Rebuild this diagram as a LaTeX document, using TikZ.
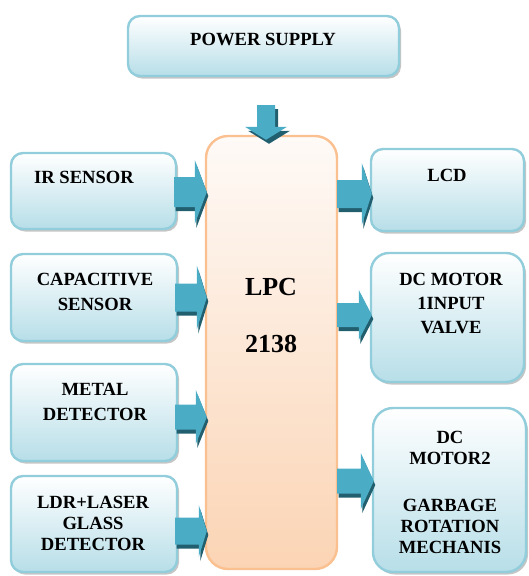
\documentclass[tikz,border=0pt]{standalone}
\usepackage{fontspec}
\setmainfont{Liberation Serif}
\usetikzlibrary{calc,shadows}
\definecolor{bbord}{HTML}{92CDDC}
\definecolor{bbot}{HTML}{B7DEE8}
\definecolor{obord}{HTML}{FAC090}
\definecolor{otop}{HTML}{FEFAF7}
\definecolor{obot}{HTML}{FBD4B4}
\definecolor{alight}{HTML}{4BACC6}
\definecolor{adark}{HTML}{215E6E}
% #1 start, #2 tip, #3 shaft half, #4 head half, #5 head length, #6 offset
\newcommand\hpoly[6]{($(#1)+(#6)+(0,-#3)$) -- ($(#2)+(#6)+(-#5,-#3)$) -- ($(#2)+(#6)+(-#5,-#4)$) -- ($(#2)+(#6)$) -- ($(#2)+(#6)+(-#5,#4)$) -- ($(#2)+(#6)+(-#5,#3)$) -- ($(#1)+(#6)+(0,#3)$) -- cycle}
\newcommand\vpoly[6]{($(#1)+(#6)+(-#3,0)$) -- ($(#2)+(#6)+(-#3,-#5)$) -- ($(#2)+(#6)+(-#4,-#5)$) -- ($(#2)+(#6)$) -- ($(#2)+(#6)+(#4,-#5)$) -- ($(#2)+(#6)+(#3,-#5)$) -- ($(#1)+(#6)+(#3,0)$) -- cycle}
\newcommand\harrowblk[5]{\fill[adark] \hpoly{#1}{#2}{#3}{#4}{#5}{1.5,4};
  \fill[alight] \hpoly{#1}{#2}{#3}{#4}{#5}{0,0};}
\begin{document}
\begin{tikzpicture}[x=1pt,y=-1pt,
  bluebox/.style={draw=bbord, line width=2.4pt, rounded corners=12pt, top color=white, bottom color=bbot, inner sep=0pt,
    drop shadow={shadow xshift=2pt, shadow yshift=-2.5pt, fill=black!45}},
  orangebox/.style={draw=obord, line width=2.4pt, rounded corners=22pt, top color=otop, bottom color=obot, inner sep=0pt},
  lbl/.style={font=\bfseries\fontsize{18.6}{25}\selectfont, align=center, inner sep=0pt, anchor=base},
  lbltight/.style={lbl, font=\bfseries\fontsize{18.6}{21}\selectfont},
  lblbig/.style={lbl, font=\bfseries\fontsize{26}{57}\selectfont}]
\useasboundingbox (0,0) rectangle (528,576);
% boxes
\node[bluebox, minimum width=271pt, minimum height=60pt] (power) at (263.5,46) {};
\node[bluebox, minimum width=165pt, minimum height=76pt] (ir) at (93.5,191) {};
\node[bluebox, minimum width=166pt, minimum height=87pt] (cap) at (94,297.5) {};
\node[bluebox, minimum width=166pt, minimum height=97pt] (metal) at (94,412.5) {};
\node[bluebox, minimum width=166pt, minimum height=96pt] (ldr) at (94,524) {};
\node[orangebox, minimum width=131pt, minimum height=433pt] (lpc) at (271.5,352.5) {};
\node[bluebox, minimum width=153pt, minimum height=82pt] (lcd) at (447.5,190) {};
\node[bluebox, rounded corners=18pt, minimum width=153pt, minimum height=129pt] (dcone) at (447.5,317.5) {};
\node[bluebox, rounded corners=20pt, minimum width=153pt, minimum height=164pt] (dctwo) at (449.5,490) {};
% labels (base = baseline of last line)
\node[lbl] (tpower) at (263,45) {POWER SUPPLY};
\node[lbl] (tir) at (84,183) {IR SENSOR};
\node[lbl] (tcap) at (95,310) {CAPACITIVE\\SENSOR};
\node[lbl] (tmetal) at (95,420) {METAL\\DETECTOR};
\node[lbltight] (tldr) at (93,550) {LDR+LASER\\GLASS\\DETECTOR};
\node[lblbig] (tlpc) at (271,352) {LPC\\2138};
\node[lbl] (tlcd) at (447,181) {LCD};
\node[lbl, font=\bfseries\fontsize{18.6}{24}\selectfont] (tdcone) at (451,333) {DC MOTOR\\1INPUT\\VALVE};
\node[lbltight] (tdctwo) at (450,553) {DC\\MOTOR2\\[5pt]\\GARBAGE\\ROTATION\\MECHANIS};
% arrows
\coordinate (pin) at (266,105);
\coordinate (ptip) at ($(lpc.north)+(-5.5,5)$);
\fill[adark] \vpoly{pin}{ptip}{9}{21}{13}{3,4};
\fill[alight] \vpoly{pin}{ptip}{9}{21}{13}{0,0};
\harrowblk{$(ir.east)+(-3,1)$}{$(lpc.west |- ir.east)+(2,1)$}{15}{32}{12}
\harrowblk{$(cap.east)+(-3,0)$}{$(lpc.west |- cap.east)+(2,0)$}{14}{32}{10}
\harrowblk{$(metal.east)+(-3,4.5)$}{$(lpc.west |- metal.east)+(2,4.5)$}{12.5}{27}{11}
\harrowblk{$(ldr.east)+(-3,7)$}{$(lpc.west |- ldr.east)+(2,7)$}{13.5}{26}{8}
\harrowblk{$(lpc.east |- lcd.west)+(-1,4)$}{$(lcd.west)+(2,4)$}{14}{31}{10}
\harrowblk{$(lpc.east |- dcone.west)+(-1,-2.5)$}{$(dcone.west)+(2,-2.5)$}{12}{25}{13}
\harrowblk{$(lpc.east |- dctwo.west)+(-1,-9)$}{$(dctwo.west)+(2,-9)$}{12.5}{28}{13}
\end{tikzpicture}
\end{document}
